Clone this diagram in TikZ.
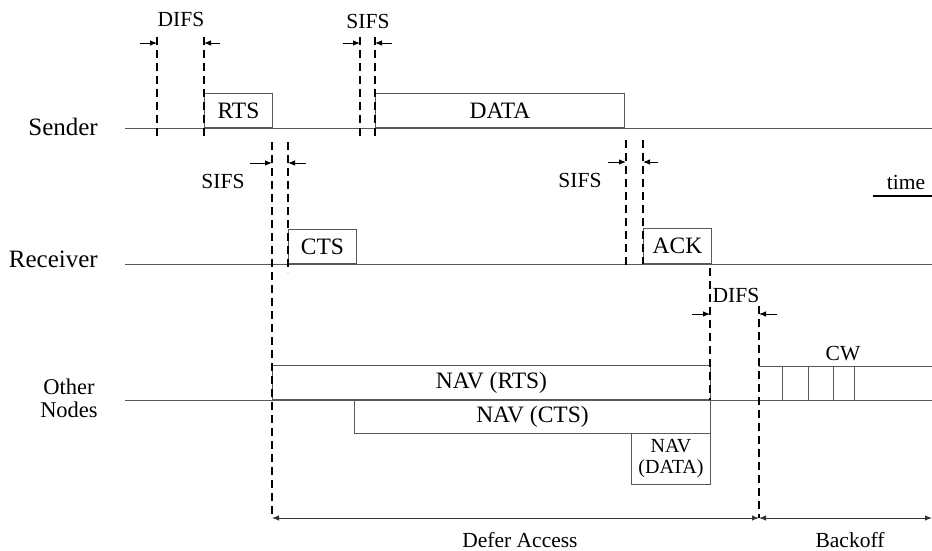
\documentclass[tikz,border=0pt]{standalone}
\usepackage{fontspec}
\setmainfont{Liberation Serif}
\usetikzlibrary{arrows.meta}
\newcommand\lblfont{\fontsize{21.5}{24}\selectfont}
\newcommand\boxfont{\fontsize{23.5}{26}\selectfont}
\newcommand\bigfont{\fontsize{25}{28}\selectfont}
\newcommand\othfont{\fontsize{22.5}{24}\selectfont}
\newcommand\smfont{\fontsize{20}{23}\selectfont}
\begin{document}
\begin{tikzpicture}[x=1pt,y=-1pt,
 sigline/.style={draw=black!65, line width=1pt},
 box/.style={draw=black!65, line width=1pt, anchor=south west, inner sep=0pt, font=\boxfont},
 dline/.style={draw=black, line width=1.3pt, dash pattern=on 8pt off 5pt},
 marker/.style={draw=black, line width=0.9pt, -{Latex[length=7pt,width=5.5pt]}},
 span/.style={draw=black!80, line width=1pt, {Latex[length=7pt,width=5.5pt]}-{Latex[length=7pt,width=5.5pt]}},
 lab/.style={font=\lblfont, inner sep=0pt},
]
\useasboundingbox (0,0) rectangle (932,551);

% row labels
\node[font=\bigfont, anchor=east, inner sep=0pt] (snd) at (98,127) {Sender};
\node[font=\bigfont, anchor=east, inner sep=0pt] (rcv) at (98,259) {Receiver};
\node[font=\othfont, align=center, inner sep=0pt] (oth) at (69,398) {Other\\[-1pt]Nodes};

% time lines
\coordinate (s0) at (125,128); \coordinate (s1) at (932,128);
\coordinate (r0) at (125,264); \coordinate (r1) at (932,264);
\coordinate (o0) at (125,400); \coordinate (o1) at (932,400);
\draw[sigline] (s0) -- (s1);
\draw[sigline] (r0) -- (r1);
\draw[sigline] (o0) -- (o1);

% frames
\node[box, minimum width=68pt, minimum height=34pt] (rts) at (204,128) {RTS};
\node[box, minimum width=249pt, minimum height=34pt] (data) at (375,128) {DATA};
\node[box, minimum width=68pt, minimum height=34pt] (cts) at (288,264) {CTS};
\node[box, minimum width=68pt, minimum height=35pt] (ack) at (643,264) {ACK};
\node[box, minimum width=438pt, minimum height=34pt] (navr) at (272,400) {NAV (RTS)};
\node[box, anchor=north west, minimum width=356pt, minimum height=33pt] (navc) at (354,400) {NAV (CTS)};
\node[box, anchor=north west, minimum width=79pt, minimum height=51pt, align=center, font=\smfont] (navd) at (631,433) {NAV\\[-2pt](DATA)};

% contention window
\coordinate (cw0) at (759,366); \coordinate (cw1) at (932,366);
\draw[sigline] (cw0) -- (cw1);
\foreach \x in {782,808,833,854} \draw[sigline] (\x,366) -- (\x,400);
\node[lab] (cw) at (843,354) {CW};

% dashed guides
\draw[dline] (157,37) -- (157,137);
\draw[dline] (204,37) -- (204,137);
\draw[dline] (360,37) -- (360,137);
\draw[dline] (375,37) -- (375,137);
\draw[dline] (272,142) -- (272,518);
\draw[dline] (288,142) -- (288,272);
\draw[dline] (626,140) -- (626,265);
\draw[dline] (643,140) -- (643,264);
\draw[dline] (710,268) -- (710,400);
\draw[dline] (759,306) -- (759,518);

% interval markers
\draw[marker] (140,43) -- (157,43);
\draw[marker] (220,43) -- (204,43);
\node[lab] (difs1) at (181,19) {DIFS};
\draw[marker] (343,43) -- (360,43);
\draw[marker] (392,43) -- (375,43);
\node[lab] (sifs1) at (368,21) {SIFS};
\draw[marker] (250,163) -- (272,163);
\draw[marker] (306,163) -- (288,163);
\node[lab] (sifs2) at (223,181) {SIFS};
\draw[marker] (608,162) -- (626,162);
\draw[marker] (658,162) -- (643,162);
\node[lab] (sifs3) at (580,180) {SIFS};
\draw[marker] (692,314) -- (710,314);
\draw[marker] (777,314) -- (759,314);
\node[lab] (difs2) at (736,295) {DIFS};

% time legend
\node[lab] (time) at (906,182) {time};
\draw[draw=black, line width=1.2pt] (873,196) -- (932,196);

% defer / backoff
\coordinate (d0) at (272,518); \coordinate (d1) at (759,518); \coordinate (d2) at (932,518);
\draw[span] (d0) -- (d1);
\draw[span] (d1) -- (d2);
\node[lab] (defer) at (520,540) {Defer Access};
\node[lab] (back) at (850,540) {Backoff};
\end{tikzpicture}
\end{document}
